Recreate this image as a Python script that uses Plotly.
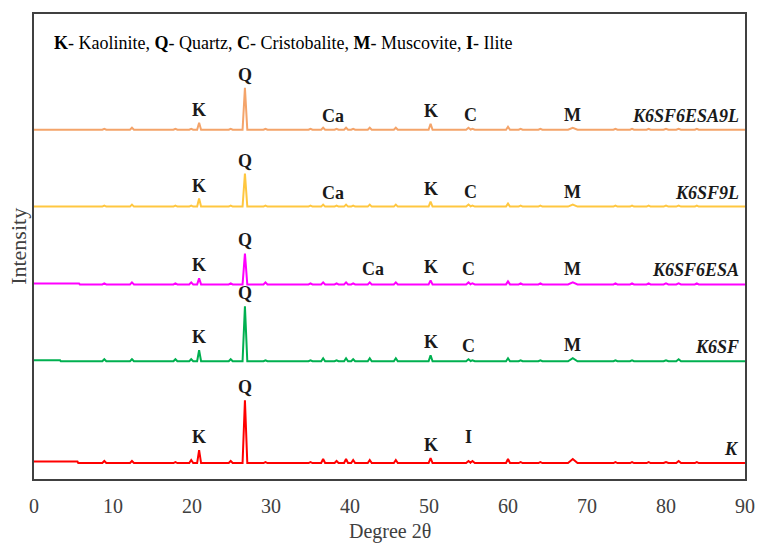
import plotly.graph_objects as go

# Reflection positions (degrees 2-theta) shared by all patterns
peak_pos = [8.9, 12.4, 17.9, 19.9, 20.9, 24.9, 26.7, 29.3, 35.0, 36.6, 38.3, 39.5, 40.4,
            42.5, 45.8, 50.2, 55.0, 55.5, 60.0, 61.6, 64.1, 68.2, 73.6, 75.7, 77.8,
            80.0, 81.6, 83.9]
# Half-width of each reflection (degrees)
peak_width = [0.25, 0.25, 0.25, 0.25, 0.25, 0.25, 0.3, 0.25, 0.25, 0.25, 0.25, 0.25, 0.25,
              0.25, 0.25, 0.25, 0.3, 0.3, 0.25, 0.25, 0.25, 0.6, 0.25, 0.25, 0.25,
              0.3, 0.3, 0.25]

samples = ["K", "K6SF", "K6SF6ESA", "K6SF9L", "K6SF6ESA9L"]
colors = ["#FF0000", "#00B050", "#FF00FF", "#FFC740", "#F4A46A"]
# vertical stacking offset of each pattern (a.u.)
offsets = [16, 118, 195, 273, 350]
# low-angle background shoulder: end (2-theta) and extra level (a.u.)
bg_end = [5.5, 3.3, 5.7, 0.0, 0.0]
bg_level = [1.5, 1.0, 1.0, 0.0, 0.0]

# Peak intensities (a.u.) for each sample, in the order of peak_pos
intensity = {
    "K":          [2, 2, 1, 3, 13, 2, 63, 1, 1, 4, 2, 4, 3, 3, 3, 5, 2, 2, 4, 1, 1, 4, 1, 1, 1, 1, 2, 1],
    "K6SF":       [2, 2, 2, 2, 11, 2, 55, 1, 1, 3, 1, 3, 2, 3, 3, 6, 2, 1, 3, 1, 1, 3, 1, 1, 0, 1, 2, 0],
    "K6SF6ESA":   [1, 2, 1, 2, 6, 1, 31, 2, 1, 2, 1, 2, 1, 2, 2, 4, 2, 1, 3, 1, 1, 2, 1, 1, 1, 1, 1, 1],
    "K6SF9L":     [1, 2, 1, 1, 8, 1, 33, 1, 1, 2, 1, 2, 1, 2, 2, 5, 2, 1, 3, 1, 1, 2, 1, 1, 1, 1, 1, 1],
    "K6SF6ESA9L": [1, 2, 1, 1, 7, 1, 42, 1, 1, 2, 1, 2, 1, 2, 2, 6, 2, 1, 3, 1, 1, 2, 1, 1, 1, 1, 1, 1],
}

# Phase labels marked on each pattern: (letter, 2-theta)
phase_labels = {
    "K":          [("K", 20.9), ("Q", 26.7), ("K", 50.2), ("I", 55.0)],
    "K6SF":       [("K", 20.9), ("Q", 26.7), ("K", 50.2), ("C", 55.0), ("M", 68.2)],
    "K6SF6ESA":   [("K", 20.9), ("Q", 26.7), ("Ca", 42.9), ("K", 50.2), ("C", 55.0), ("M", 68.2)],
    "K6SF9L":     [("K", 20.9), ("Q", 26.7), ("Ca", 37.9), ("K", 50.2), ("C", 55.3), ("M", 68.2)],
    "K6SF6ESA9L": [("K", 20.9), ("Q", 26.7), ("Ca", 37.9), ("K", 50.2), ("C", 55.3), ("M", 68.2)],
}

x_ticks = [0, 10, 20, 30, 40, 50, 60, 70, 80, 90]
legend_text = ("<b>K</b>- Kaolinite, <b>Q</b>- Quartz, <b>C</b>- Cristobalite, "
               "<b>M</b>- Muscovite, <b>I</b>- Ilite")

SERIF = "'Liberation Serif', serif"


def pattern(name, base, end, lvl):
    """Polyline of a stick-like diffraction pattern on a flat baseline."""
    xs, ys = [0.0], [base + lvl]
    if end > 0:
        xs += [end, end + 0.1]
        ys += [base + lvl, base]
    for p, w, h in zip(peak_pos, peak_width, intensity[name]):
        xs += [p - w, p, p + w]
        ys += [base, base + h, base]
    xs.append(90.0)
    ys.append(base)
    return xs, ys


def local_height(name, x):
    hs = [h for p, h in zip(peak_pos, intensity[name]) if abs(p - x) <= 0.7]
    return max(hs) if hs else 0


fig = go.Figure()
annotations = []
for name, col, off, e, lv in zip(samples, colors, offsets, bg_end, bg_level):
    xs, ys = pattern(name, off, e, lv)
    fig.add_trace(go.Scatter(x=xs, y=ys, mode="lines", name=name,
                             line=dict(color=col, width=2), showlegend=False))
    for letter, x in phase_labels[name]:
        gap = 12 if letter == "I" else 1
        annotations.append(dict(x=x, y=off + local_height(name, x) + gap, text=f"<b>{letter}</b>",
                                showarrow=False, xanchor="center", yanchor="bottom",
                                font=dict(family=SERIF, size=18, color="#1a1a1a")))
    annotations.append(dict(x=89.5, y=off + 2, text=f"<b><i>{name}</i></b>", showarrow=False,
                            xanchor="right", yanchor="bottom",
                            font=dict(family=SERIF, size=18, color="#1a1a1a")))

annotations.append(dict(x=0.026, y=0.937, xref="paper", yref="paper", text=legend_text,
                        showarrow=False, xanchor="left", yanchor="middle",
                        font=dict(family=SERIF, size=18, color="#000000")))
annotations.append(dict(x=0.5, y=-0.113, xref="paper", yref="paper", text="Degree 2θ",
                        showarrow=False, xanchor="center", yanchor="middle",
                        font=dict(family=SERIF, size=20, color="#404040")))
annotations.append(dict(x=-0.022, y=0.5, xref="paper", yref="paper", text="Intensity",
                        textangle=-90, showarrow=False, xanchor="center", yanchor="middle",
                        font=dict(family=SERIF, size=22, color="#404040")))

fig.update_layout(
    width=767, height=545,
    margin=dict(l=34, r=14, t=13, b=66),
    paper_bgcolor="white", plot_bgcolor="white",
    font=dict(family=SERIF),
    annotations=annotations,
    xaxis=dict(range=[0, 90], tickvals=x_ticks, ticktext=[str(t) for t in x_ticks],
               showgrid=False, zeroline=False, ticks="", ticklabelstandoff=8,
               showline=True, linecolor="#404040", linewidth=2, mirror=True,
               tickfont=dict(family=SERIF, size=20, color="#404040")),
    yaxis=dict(range=[0, 466], showticklabels=False, showgrid=False, zeroline=False,
               ticks="", showline=True, linecolor="#404040", linewidth=2, mirror=True),
)

fig.write_html("out.html")
